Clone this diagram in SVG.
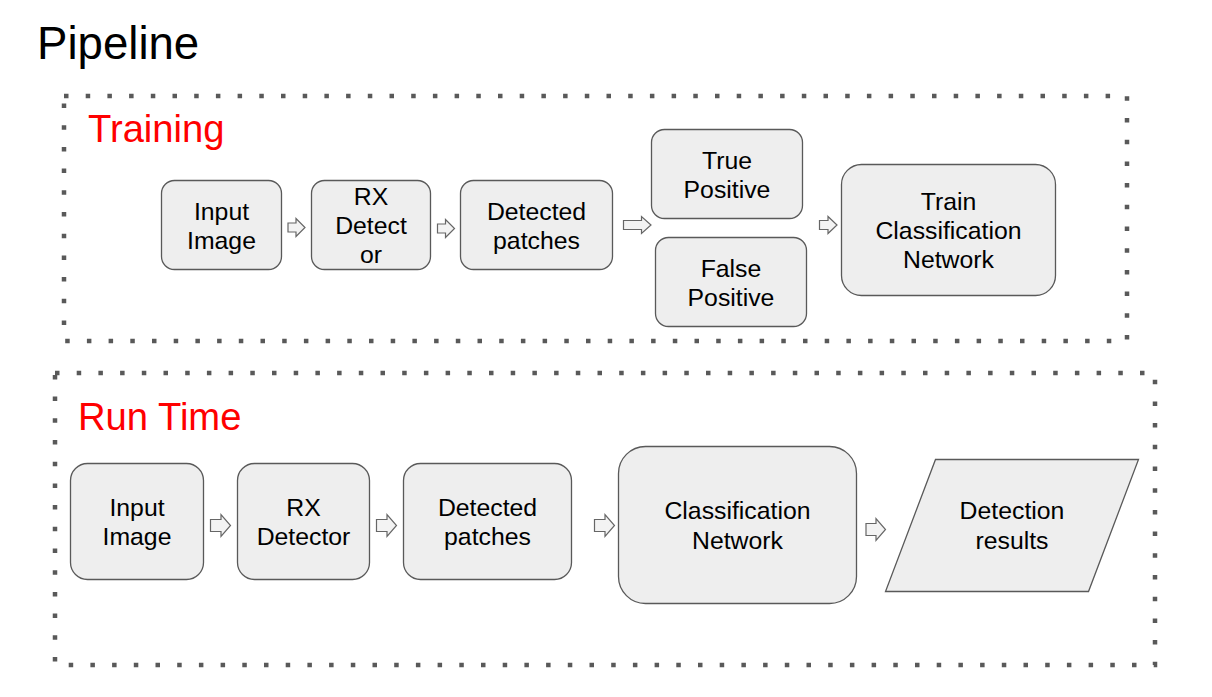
<svg xmlns="http://www.w3.org/2000/svg" width="1212" height="697" viewBox="0 0 1212 697">
<style>
.frame{fill:none;stroke:#595959;stroke-width:4.5;stroke-dasharray:4.5 17.2}
.box{fill:#eeeeee;stroke:#595959;stroke-width:1.3}
.arr{fill:#f3f3f3;stroke:#666666;stroke-width:1.2;stroke-linejoin:miter}
.t{font-family:"Liberation Sans",Arial,sans-serif;font-size:24.8px;fill:#000;text-anchor:middle}
.sec{font-family:"Liberation Sans",Arial,sans-serif;font-size:38.2px;fill:#ff0000}
</style>
<rect width="1212" height="697" fill="#ffffff"/>
<text x="37" y="59" style="font-family:'Liberation Sans',Arial,sans-serif;font-size:45.6px;fill:#000">Pipeline</text>

<g id="training-frame">
<rect class="frame" x="64" y="96" width="1063" height="245"/>
<text class="sec" x="88" y="142">Training</text>
</g>
<g id="runtime-frame">
<rect class="frame" x="55" y="373" width="1100" height="292"/>
<text class="sec" x="78" y="430">Run Time</text>
</g>

<g id="t-input">
<rect class="box" x="161.5" y="180.5" width="120" height="89" rx="13"/>
<text class="t" x="221.5" y="220">Input</text>
<text class="t" x="221.5" y="249">Image</text>
</g>
<g id="t-rx">
<rect class="box" x="311.5" y="180.5" width="119" height="89" rx="13"/>
<text class="t" x="371" y="205">RX</text>
<text class="t" x="371" y="234">Detect</text>
<text class="t" x="371" y="263">or</text>
</g>
<g id="t-patches">
<rect class="box" x="460.5" y="180.5" width="152" height="89" rx="13"/>
<text class="t" x="536.5" y="220">Detected</text>
<text class="t" x="536.5" y="249">patches</text>
</g>
<g id="t-tp">
<rect class="box" x="651.5" y="129.5" width="151" height="89" rx="13"/>
<text class="t" x="727" y="169">True</text>
<text class="t" x="727" y="198">Positive</text>
</g>
<g id="t-fp">
<rect class="box" x="655.5" y="237.5" width="151" height="89" rx="13"/>
<text class="t" x="731" y="277">False</text>
<text class="t" x="731" y="306">Positive</text>
</g>
<g id="t-train">
<rect class="box" x="841.5" y="164.5" width="214" height="131" rx="20"/>
<text class="t" x="948.5" y="210">Train</text>
<text class="t" x="948.5" y="239">Classification</text>
<text class="t" x="948.5" y="268">Network</text>
</g>

<g id="r-input">
<rect class="box" x="70.5" y="463.5" width="133" height="116" rx="17"/>
<text class="t" x="137" y="516">Input</text>
<text class="t" x="137" y="545">Image</text>
</g>
<g id="r-rx">
<rect class="box" x="237.5" y="463.5" width="132" height="116" rx="17"/>
<text class="t" x="303.5" y="516">RX</text>
<text class="t" x="303.5" y="545">Detector</text>
</g>
<g id="r-patches">
<rect class="box" x="403.5" y="463.5" width="168" height="116" rx="17"/>
<text class="t" x="487.5" y="516">Detected</text>
<text class="t" x="487.5" y="545">patches</text>
</g>
<g id="r-class">
<rect class="box" x="618.5" y="446.5" width="238" height="157" rx="27"/>
<text class="t" x="737.5" y="519">Classification</text>
<text class="t" x="737.5" y="549">Network</text>
</g>
<g id="r-results">
<polygon class="box" points="935.5,459.5 1138.5,459.5 1088.5,591.5 885.5,591.5"/>
<text class="t" x="1012" y="519">Detection</text>
<text class="t" x="1012" y="549">results</text>
</g>

<g id="connectors">
<polygon class="arr" points="288,223 296,223 296,218.5 305,227.5 296,236.5 296,232 288,232"/>
<polygon class="arr" points="437.5,224 445.5,224 445.5,219.5 454.5,228.5 445.5,237.5 445.5,233 437.5,233"/>
<polygon class="arr" points="623.5,220.5 641.5,220.5 641.5,216.5 651,225 641.5,233.5 641.5,229.5 623.5,229.5"/>
<polygon class="arr" points="819.5,220.5 828,220.5 828,216.5 837,225 828,233.5 828,229.5 819.5,229.5"/>
<polygon class="arr" points="210.5,519.5 221,519.5 221,514.5 230.5,525.5 221,536.5 221,531.5 210.5,531.5"/>
<polygon class="arr" points="376.5,519.5 387,519.5 387,514.5 396.5,525.5 387,536.5 387,531.5 376.5,531.5"/>
<polygon class="arr" points="594.5,519.5 605,519.5 605,514.5 614.5,525.5 605,536.5 605,531.5 594.5,531.5"/>
<polygon class="arr" points="866,523.5 876,523.5 876,518.5 885.5,529.5 876,540.5 876,535.5 866,535.5"/>
</g>
</svg>
